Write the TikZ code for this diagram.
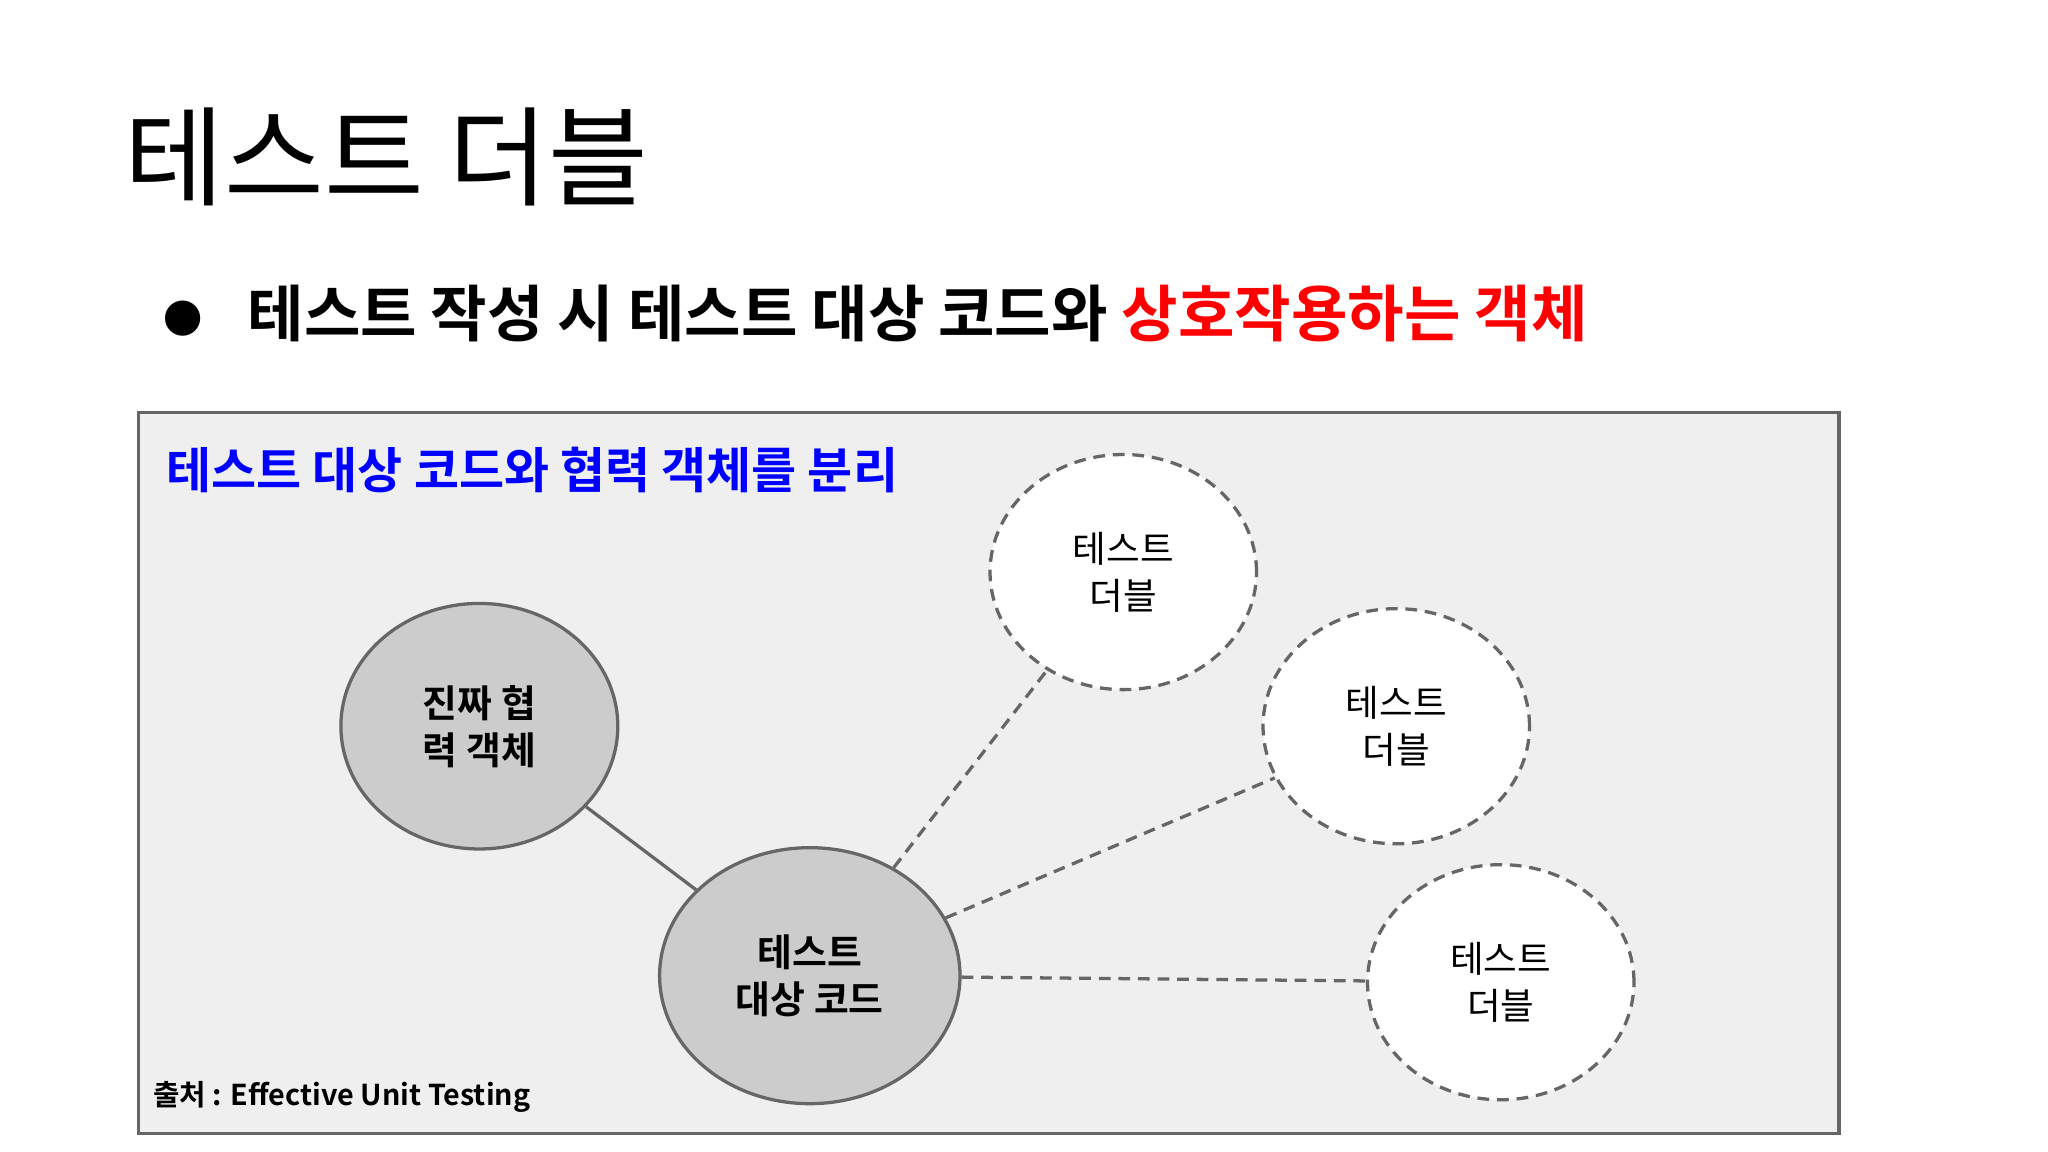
\documentclass[tikz,border=0pt]{standalone}
\usepackage{fontspec}
\setmainfont{Noto Sans CJK KR}[BoldFont={Noto Sans CJK KR Bold}]
\usetikzlibrary{shapes.geometric}
\definecolor{boxgray}{HTML}{EFEFEF}
\definecolor{edge}{HTML}{666666}
\definecolor{fillg}{HTML}{CCCCCC}
\begin{document}
\begin{tikzpicture}[x=1pt,y=-1pt,
  solidnode/.style={ellipse,draw=edge,line width=2.5pt,fill=fillg,align=center,font=\fontsize{29}{36}\selectfont\bfseries},
  dnode/.style={ellipse,draw=edge,line width=2.5pt,dash pattern=on 9pt off 6pt,fill=white,align=center,font=\fontsize{28}{36}\selectfont},
  dline/.style={draw=edge,line width=2.5pt,dash pattern=on 9pt off 6pt}]
\useasboundingbox (0,0) rectangle (1568,882);
\node[anchor=west,font=\fontsize{83}{90}\selectfont] (title) at (92,120) {테스트 더블};
\node[font=\fontsize{30}{36}\selectfont] (bul) at (140,244) {●};
\node[anchor=west,font=\fontsize{47}{52}\selectfont\bfseries] (sub) at (186,240) {테스트 작성 시 테스트 대상 코드와 \textcolor{red}{상호작용하는 객체}};
\draw[draw=edge,fill=boxgray,line width=2.5pt] (106,316) rectangle (1408,868);
\node[anchor=west,text=blue,font=\fontsize{37.5}{40}\selectfont\bfseries] (blue) at (124,360) {테스트 대상 코드와 협력 객체를 분리};
\node[solidnode,minimum width=212,minimum height=188] (real) at (367,556) {진짜 협\\력 객체};
\node[solidnode,minimum width=230,minimum height=196] (tgt) at (620,747) {테스트\\대상 코드};
\node[dnode,minimum width=204,minimum height=180] (d1) at (860,438) {테스트\\더블};
\node[dnode,minimum width=204,minimum height=180] (d2) at (1069,556) {테스트\\더블};
\node[dnode,minimum width=204,minimum height=180] (d3) at (1149,752) {테스트\\더블};
\draw[draw=edge,line width=2.5pt] (real) -- (tgt);
\draw[dline] (tgt) -- (d1);
\draw[dline] (tgt) -- (d2);
\draw[dline] (tgt) -- (d3);
\node[anchor=west,font=\fontsize{22}{24}\selectfont\bfseries] (src) at (114,840) {출처 : Effective Unit Testing};
\end{tikzpicture}
\end{document}
